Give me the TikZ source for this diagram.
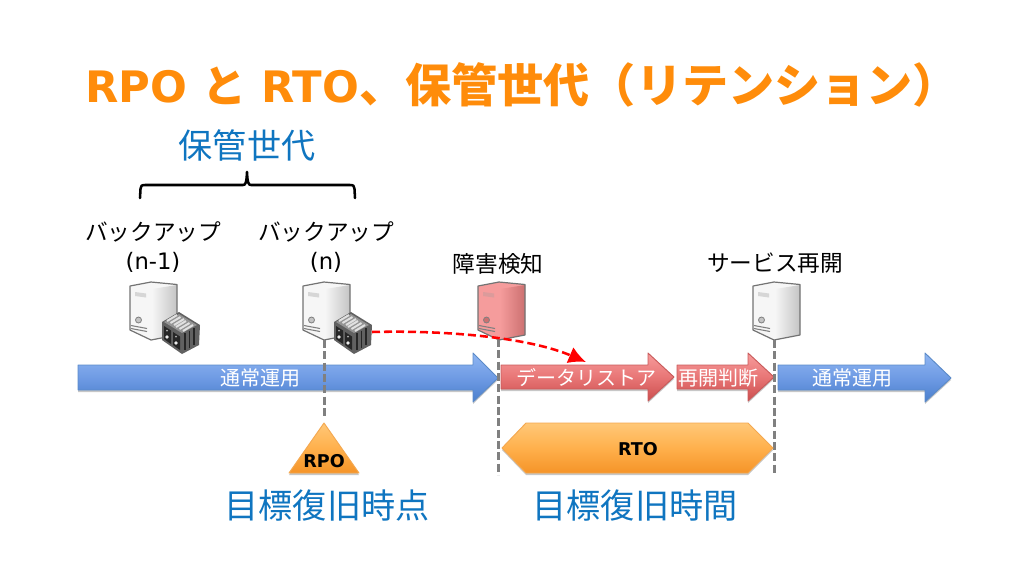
\documentclass[tikz,border=0pt]{standalone}
\usepackage{fontspec}
\setmainfont{DejaVu Sans}
\newfontfamily\cjk{Noto Sans CJK JP}
\usetikzlibrary{arrows.meta,calc}
\definecolor{orangeT}{HTML}{FF8C0A}
\definecolor{blueT}{HTML}{0F75C0}
\definecolor{BAr1}{HTML}{8FB6F2}\definecolor{BAr2}{HTML}{6F9BE4}\definecolor{BAr3}{HTML}{4A7FCC}\definecolor{BAe}{HTML}{5B8AC8}
\definecolor{RAr1}{HTML}{F79C9C}\definecolor{RAr2}{HTML}{E87676}\definecolor{RAr3}{HTML}{CC4E4E}\definecolor{RAe}{HTML}{C85A5A}
\definecolor{OAr1}{HTML}{FFC878}\definecolor{OAr2}{HTML}{FFB04C}\definecolor{OAr3}{HTML}{F59428}\definecolor{OAe}{HTML}{F4A850}
\definecolor{SvW}{HTML}{F6F6F6}\definecolor{SvW2}{HTML}{C4C4C4}
\definecolor{SvR}{HTML}{F59C9C}\definecolor{SvR2}{HTML}{CC7070}
\tikzset{
  x=0.75pt,y=-0.75pt,
  lifted/.style={preaction={fill=black,opacity=.22,transform canvas={yshift=-1.5pt}}},
  bluebar/.style={lifted,draw=BAe,top color=BAr1,bottom color=BAr3,middle color=BAr2,line width=.7pt,line join=round},
  redbar/.style={lifted,draw=RAe,top color=RAr1,bottom color=RAr3,middle color=RAr2,line width=.7pt,line join=round},
  orangebar/.style={lifted,draw=OAe,top color=OAr1,bottom color=OAr3,middle color=OAr2,line width=.7pt,line join=round},
  guide/.style={draw=black!50,dash pattern=on 6pt off 2.5pt,line width=2pt},
  blacklabel/.style={font=\cjk\fontsize{17}{21}\selectfont,text=black,align=center,inner sep=0pt},
  whitelabel/.style={font=\cjk\fontsize{15}{17}\selectfont,text=white,inner sep=0pt},
  bluelabel/.style={font=\cjk\fontsize{25.6}{30}\selectfont,text=blueT,inner sep=0pt},
  boldlabel/.style={font=\bfseries\fontsize{13.2}{15}\selectfont,text=black,inner sep=0pt},
  pics/server/.style 2 args={code={
    \fill[#1] (0,4) -- (21,0) -- (47,2.5) -- (47,53) -- (21,58) -- (0,48) -- cycle;
    \shade[left color=#1,right color=#2] (22,7) -- (47,3) -- (47,53) -- (22,58) -- cycle;
    \draw[black!55,line width=.9pt,line join=round] (0,4) -- (21,0) -- (47,2.5) -- (47,53) -- (21,58) -- (0,48) -- cycle;
    \fill[#2!70!white] (5,10) -- (16,11.5) -- (16,15.5) -- (5,14) -- cycle;
    \filldraw[fill=#2,draw=black!50,line width=.6pt] (8.5,38) circle[radius=3];
    \draw[black!50,line width=.8pt] (1,43.5) -- (17,46.5) (1,46.5) -- (17,49.5);
  }},
  pics/disks/.style={code={
    \fill[black!62] (0,10) -- (17,0) -- (38,13) -- (37,33) -- (20,42) -- (0,28) -- cycle;
    \fill[black!42] (2,10) -- (17,2) -- (35,13) -- (20,21) -- cycle;
    \draw[black!12,line width=1.5pt] (5,9) -- (15,3) (8.5,11) -- (18.5,5) (12,13) -- (22,7)
       (14,15) -- (24,9) (17.5,17) -- (27.5,11) (21,19) -- (31,13);
    \fill[black!85] (2,14) -- (9,18.5) -- (9,32) -- (2,27) -- cycle;
    \fill[black!85] (11,20) -- (18,24.5) -- (18,38) -- (11,33) -- cycle;
    \fill[black!8] (5,25) circle[radius=1.8] (14,31) circle[radius=1.8];
    \fill[black!30] (5,18.5) circle[radius=1] (14,24.5) circle[radius=1];
    \draw[black!85,line width=1.1pt] (23,21) -- (23,38) (27.5,18.5) -- (27.5,35.5) (32,16) -- (32,33);
  }},
}
\begin{document}
\begin{tikzpicture}
\useasboundingbox (0,0) rectangle (1024,576);
% title
\node[inner sep=0pt,text=orangeT,font=\bfseries\fontsize{32.5}{40}\selectfont,anchor=west] (title) at (85,85)
  {RPO {\cjk\bfseries\fontsize{33}{40}\selectfont と} RTO{\cjk\bfseries\fontsize{34.6}{40}\selectfont 、保管世代（リテンション）}};
\node[bluelabel] (gen) at (247,145) {保管世代};
% brace
\coordinate (bl) at (140,198); \coordinate (br) at (355,198); \coordinate (btip) at (247,172);
\draw[line width=1.9pt,line cap=round,line join=round] (bl) -- (140.5,189) .. controls (140.7,186) and (141.5,185) .. (145,185)
  -- (243,185) .. controls (245.5,185) and (246.5,183) .. (btip)
  .. controls (247.5,183) and (248.5,185) .. (251,185) -- (350,185)
  .. controls (353.5,185) and (354.3,186) .. (354.5,189) -- (br);
% labels
\node[blacklabel] (b1) at (153,247) {\cjk バックアップ\\[1pt]\fontspec{DejaVu Sans}(n-1)};
\node[blacklabel] (b2) at (326,247) {\cjk バックアップ\\[1pt]\fontspec{DejaVu Sans}(n)};
\node[blacklabel] (det) at (498,263.5) {障害検知};
\node[blacklabel] (svc) at (775,263.5) {サービス再開};
% servers
\pic at (130,282) {server={SvW}{SvW2}};
\pic at (162,312) {disks};
\pic at (303,282) {server={SvW}{SvW2}};
\pic at (334,312) {disks};
\pic at (478,282) {server={SvR}{SvR2}};
\pic at (753,282) {server={SvW}{SvW2}};
% guide anchors
\coordinate (g1t) at (324.5,340); \coordinate (g1b) at (324.5,418);
\coordinate (g2t) at (498.5,339); \coordinate (g2b) at (498.5,475);
\coordinate (g3t) at (774.5,340); \coordinate (g3b) at (774.5,475);
% bars
\path[bluebar] (78,365) -- (473,365) -- (473,353) -- (498,378) -- (473,402) -- (473,390) -- (78,390) -- cycle;
\path[redbar] (501,365) -- (648,365) -- (648,353) -- (674,377) -- (648,401) -- (648,389) -- (501,389) -- cycle;
\path[redbar] (677,365) -- (748,365) -- (748,353) -- (774,377) -- (748,401) -- (748,389) -- (677,389) -- cycle;
\path[bluebar] (778,365) -- (925,365) -- (925,353) -- (951,378) -- (925,402) -- (925,390) -- (778,390) -- cycle;
\draw[guide] (g1t) -- (g1b);
\draw[guide] (g2t) -- (g2b);
\draw[guide] (g3t) -- (g3b);
\node[whitelabel] (n1) at (260,378) {通常運用};
\node[whitelabel] (n2) at (852,378) {通常運用};
\node[whitelabel] (dr) at (586,378) {データリストア};
\node[whitelabel] (rk) at (718,378) {再開判断};
% RPO / RTO
\path[orangebar] (324,423) -- (359,473) -- (289,473) -- cycle;
\node[boldlabel] (rpo) at (324,461) {RPO};
\path[orangebar] (502,448) -- (526,423) -- (748,423) -- (773,448) -- (748,473) -- (526,473) -- cycle;
\node[boldlabel] (rto) at (638,449) {RTO};
\node[bluelabel] (t1) at (327,506) {目標復旧時点};
\node[bluelabel] (t2) at (635,506) {目標復旧時間};
% red curve
\coordinate (cs) at (372,332); \coordinate (ce) at (586,362);
\draw[red,line width=1.9pt,dash pattern=on 6pt off 3pt,-{Latex[length=13pt,width=13pt]}] (cs) .. controls (450,330) and (530,338) .. (ce);
\end{tikzpicture}
\end{document}
